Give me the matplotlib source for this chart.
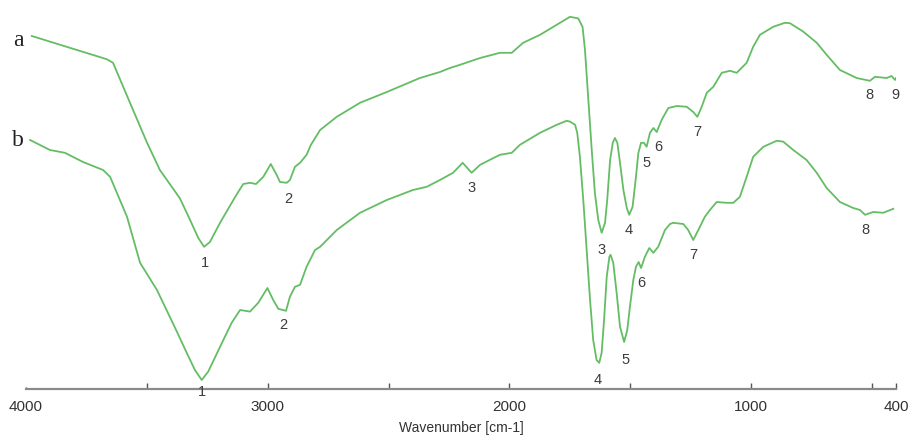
#Librerias
import matplotlib
matplotlib.use("Agg")
import matplotlib.pyplot as plt
import numpy as np

wn_a = [3976, 3832, 3666, 3640, 3557, 3499, 3446, 3363, 3321, 3287, 3263, 3239,
        3197, 3142, 3122, 3101, 3073, 3048, 3018, 2987, 2963, 2949, 2921, 2908,
        2887, 2866, 2839, 2821, 2783, 2714, 2618, 2507, 2370, 2287, 2246, 2204,
        2121, 2039, 1990, 1943, 1873, 1804, 1749, 1715, 1697, 1687, 1673, 1659,
        1646, 1632, 1618, 1604, 1595, 1583, 1572, 1563, 1553, 1542, 1528, 1514,
        1504, 1490, 1476, 1466, 1455, 1443, 1432, 1418, 1404, 1390, 1370, 1342,
        1307, 1266, 1239, 1222, 1204, 1183, 1156, 1121, 1087, 1059, 1018, 991,
        963, 908, 860, 839, 784, 728, 687, 632, 563, 508, 487, 439, 418, 404, 400]
t_a = [91.0, 88.3, 85.2, 84.3, 72.5, 64.3, 57.5, 50.4, 45.0, 40.5, 38.3, 39.5,
       44.3, 50.0, 52.0, 54.0, 54.3, 54.0, 55.8, 59.0, 56.3, 54.5, 54.3, 55.0,
       58.3, 59.3, 61.3, 63.8, 67.5, 70.8, 74.3, 77.0, 80.5, 82.0, 83.0, 83.8,
       85.5, 86.8, 86.8, 89.3, 91.3, 93.8, 95.8, 95.4, 93.3, 87.5, 75.0, 62.5,
       51.8, 45.0, 41.8, 44.3, 50.0, 60.0, 64.3, 65.5, 64.3, 59.3, 52.5, 48.0,
       46.3, 48.3, 55.8, 61.8, 64.3, 64.3, 63.3, 66.8, 68.0, 67.0, 70.0, 73.0,
       73.5, 73.3, 72.0, 70.8, 73.3, 76.8, 78.3, 81.8, 82.3, 81.8, 84.3, 88.3,
       91.3, 93.3, 94.3, 94.2, 92.1, 89.3, 86.3, 82.5, 80.5, 79.8, 80.8, 80.5,
       81.0, 80.0, 80.5]

wn_b = [3983, 3901, 3839, 3764, 3681, 3652, 3582, 3528, 3458, 3375, 3335, 3301,
        3273, 3246, 3197, 3149, 3114, 3073, 3039, 3001, 2977, 2956, 2924, 2908,
        2887, 2866, 2839, 2804, 2783, 2714, 2618, 2507, 2399, 2342, 2287, 2233,
        2193, 2156, 2121, 2039, 1990, 1956, 1873, 1804, 1763, 1749, 1728, 1719,
        1708, 1694, 1680, 1666, 1653, 1639, 1628, 1618, 1608, 1597, 1586, 1581,
        1570, 1556, 1542, 1525, 1512, 1501, 1487, 1476, 1465, 1455, 1439, 1421,
        1404, 1384, 1356, 1335, 1322, 1280, 1260, 1239, 1218, 1191, 1170, 1142,
        1101, 1073, 1046, 1018, 991, 949, 894, 867, 825, 770, 728, 687, 632, 577,
        549, 528, 494, 453, 411]
t_b = [65.0, 62.5, 61.8, 59.5, 57.5, 55.8, 45.8, 34.3, 27.5, 17.0, 11.8, 7.5,
       5.0, 7.1, 13.3, 19.3, 22.5, 22.1, 24.3, 28.0, 25.0, 22.8, 22.3, 25.8,
       28.3, 28.8, 33.3, 37.5, 38.3, 42.5, 46.8, 50.0, 52.5, 53.3, 55.0, 56.8,
       59.3, 56.8, 58.8, 61.3, 61.8, 63.8, 66.8, 68.8, 69.8, 69.6, 68.8, 66.8,
       60.8, 50.0, 37.5, 25.0, 15.0, 10.0, 9.3, 11.8, 20.0, 30.8, 35.8, 36.3,
       34.3, 26.8, 18.3, 14.5, 17.5, 23.3, 30.0, 33.3, 34.5, 33.0, 35.8, 38.0,
       36.8, 38.3, 42.5, 44.0, 44.3, 44.0, 42.5, 40.0, 42.5, 45.8, 47.5, 49.5,
       49.3, 49.3, 50.8, 55.8, 60.8, 63.3, 64.8, 64.6, 62.5, 60.0, 56.8, 53.0,
       49.5, 48.0, 47.5, 46.3, 47.0, 46.8, 47.8]

#Etiquetas de los picos (numero de onda y altura de la etiqueta)
picos_a = ["1", "2", "3", "4", "5", "6", "7", "8", "9"]
wn_pico_a = [3259, 2916, 1618, 1505, 1432, 1385, 1223, 508, 402]
t_pico_a = [34.3, 50.3, 37.5, 42.5, 59.3, 63.3, 67.0, 76.3, 76.3]

picos_b = ["1", "2", "3", "4", "5", "6", "7", "8"]
wn_pico_b = [3273, 2937, 2156, 1633, 1521, 1452, 1240, 528]
t_pico_b = [2.0, 18.8, 53.0, 5.0, 10.0, 29.3, 36.3, 42.5]

ticks = [4000, 3500, 3000, 2500, 2000, 1500, 1000, 500, 400]
tick_labels = ["4000", "", "3000", "", "2000", "", "1000", "", "400"]

verde = "#64bd64"
gris = "#8a8a8a"
fuente_eje = ["Liberation Sans Narrow", "Liberation Sans"]

#Figura
fig = plt.figure(figsize=(9.09, 4.38), dpi=100)
ax = fig.add_axes([26 / 909, 49 / 438, 870 / 909, 389 / 438])

ax.plot(wn_a, t_a, color=verde, lw=1.3)
ax.plot(wn_b, t_b, color=verde, lw=1.3)

# Numeros de los picos
for txt, x, y in zip(picos_a, wn_pico_a, t_pico_a):
    ax.text(x, y, txt, ha="center", va="center", fontsize=10.5,
            family="Liberation Sans", color="#3c3c3c", clip_on=False)
for txt, x, y in zip(picos_b, wn_pico_b, t_pico_b):
    ax.text(x, y, txt, ha="center", va="center", fontsize=10.5,
            family="Liberation Sans", color="#3c3c3c", clip_on=False)

# Letras de las muestras
ax.text(4033, 90, "a", ha="center", va="center", fontsize=17,
        family="Liberation Serif", color="#222222", clip_on=False)
ax.text(4033, 65, "b", ha="center", va="center", fontsize=17,
        family="Liberation Serif", color="#222222", clip_on=False)

# Ejes
ax.set_xlim(4000, 400)
ax.set_ylim(2.75, 100)
for lado in ["top", "left", "right"]:
    ax.spines[lado].set_visible(False)
ax.spines["bottom"].set_color(gris)
ax.spines["bottom"].set_linewidth(1.6)
ax.set_yticks([])
ax.set_xticks(ticks)
ax.set_xticklabels(tick_labels, family=fuente_eje, fontsize=11, color="#333333")
ax.tick_params(axis="x", direction="in", length=4.5, width=1, color="#555555", pad=8)
ax.xaxis.get_major_ticks()[0].tick1line.set_markersize(1.5)
ax.set_xlabel("Wavenumber [cm-1]", family=fuente_eje, fontsize=10, color="#333333", labelpad=5)
ax.patch.set_visible(False)

fig.savefig("out.png", dpi=100)
